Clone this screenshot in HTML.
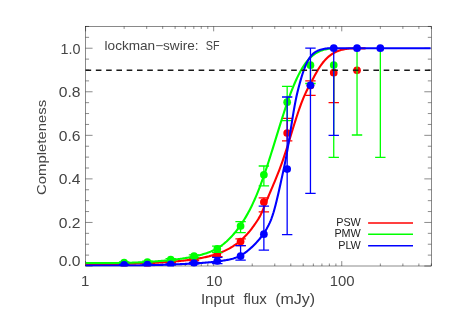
<!DOCTYPE html>
<html><head><meta charset="utf-8"><title>completeness</title>
<style>html,body{margin:0;padding:0;background:#fff;}svg{display:block;}text{font-family:"Liberation Sans",sans-serif;}</style></head>
<body>
<svg width="457" height="319" viewBox="0 0 457 319">
<rect width="457" height="319" fill="#fff"/>
<rect x="85.57" y="26.45" width="345.73" height="239.55" fill="none" stroke="#000" stroke-width="0.46"/>
<path d="M85.57,266.0 v-4.9 M85.57,26.45 v4.9 M124.13,266.0 v-2.5 M124.13,26.45 v2.5 M146.69,266.0 v-2.5 M146.69,26.45 v2.5 M162.69,266.0 v-2.5 M162.69,26.45 v2.5 M175.11,266.0 v-2.5 M175.11,26.45 v2.5 M185.25,266.0 v-2.5 M185.25,26.45 v2.5 M193.82,266.0 v-2.5 M193.82,26.45 v2.5 M201.25,266.0 v-2.5 M201.25,26.45 v2.5 M207.81,266.0 v-2.5 M207.81,26.45 v2.5 M213.67,266.0 v-4.9 M213.67,26.45 v4.9 M252.23,266.0 v-2.5 M252.23,26.45 v2.5 M274.78,266.0 v-2.5 M274.78,26.45 v2.5 M290.79,266.0 v-2.5 M290.79,26.45 v2.5 M303.20,266.0 v-2.5 M303.20,26.45 v2.5 M313.35,266.0 v-2.5 M313.35,26.45 v2.5 M321.92,266.0 v-2.5 M321.92,26.45 v2.5 M329.35,266.0 v-2.5 M329.35,26.45 v2.5 M335.90,266.0 v-2.5 M335.90,26.45 v2.5 M341.76,266.0 v-4.9 M341.76,26.45 v4.9 M380.33,266.0 v-2.5 M380.33,26.45 v2.5 M402.88,266.0 v-2.5 M402.88,26.45 v2.5 M418.89,266.0 v-2.5 M418.89,26.45 v2.5 M431.30,266.0 v-2.5 M431.30,26.45 v2.5 M85.57,266.00 h7.0 M431.3,266.00 h-7.0 M85.57,255.11 h3.5 M431.3,255.11 h-3.5 M85.57,244.22 h3.5 M431.3,244.22 h-3.5 M85.57,233.33 h3.5 M431.3,233.33 h-3.5 M85.57,222.45 h7.0 M431.3,222.45 h-7.0 M85.57,211.56 h3.5 M431.3,211.56 h-3.5 M85.57,200.67 h3.5 M431.3,200.67 h-3.5 M85.57,189.78 h3.5 M431.3,189.78 h-3.5 M85.57,178.89 h7.0 M431.3,178.89 h-7.0 M85.57,168.00 h3.5 M431.3,168.00 h-3.5 M85.57,157.11 h3.5 M431.3,157.11 h-3.5 M85.57,146.23 h3.5 M431.3,146.23 h-3.5 M85.57,135.34 h7.0 M431.3,135.34 h-7.0 M85.57,124.45 h3.5 M431.3,124.45 h-3.5 M85.57,113.56 h3.5 M431.3,113.56 h-3.5 M85.57,102.67 h3.5 M431.3,102.67 h-3.5 M85.57,91.78 h7.0 M431.3,91.78 h-7.0 M85.57,80.89 h3.5 M431.3,80.89 h-3.5 M85.57,70.00 h3.5 M431.3,70.00 h-3.5 M85.57,59.12 h3.5 M431.3,59.12 h-3.5 M85.57,48.23 h7.0 M431.3,48.23 h-7.0 M85.57,37.34 h3.5 M431.3,37.34 h-3.5 M85.57,26.45 h3.5 M431.3,26.45 h-3.5" stroke="#000" stroke-width="0.46" fill="none"/>
<clipPath id="pc"><rect x="85.57" y="26.45" width="345.73" height="240.15"/></clipPath>
<g clip-path="url(#pc)">
<path d="M124.13,263.00 V264.00 M118.93,263.00 H129.33 M118.93,264.00 H129.33" stroke="#ff0000" stroke-width="1.3" fill="none"/>
<circle cx="124.13" cy="263.50" r="3.85" fill="#ff0000"/>
<path d="M147.42,262.70 V263.70 M142.22,262.70 H152.62 M142.22,263.70 H152.62" stroke="#ff0000" stroke-width="1.3" fill="none"/>
<circle cx="147.42" cy="263.20" r="3.85" fill="#ff0000"/>
<path d="M170.71,261.30 V262.70 M165.51,261.30 H175.91 M165.51,262.70 H175.91" stroke="#ff0000" stroke-width="1.3" fill="none"/>
<circle cx="170.71" cy="262.00" r="3.85" fill="#ff0000"/>
<path d="M194.00,258.50 V260.50 M188.80,258.50 H199.20 M188.80,260.50 H199.20" stroke="#ff0000" stroke-width="1.3" fill="none"/>
<circle cx="194.00" cy="259.50" r="3.85" fill="#ff0000"/>
<path d="M217.29,252.70 V256.70 M212.09,252.70 H222.49 M212.09,256.70 H222.49" stroke="#ff0000" stroke-width="1.3" fill="none"/>
<circle cx="217.29" cy="254.70" r="3.85" fill="#ff0000"/>
<path d="M240.58,238.90 V245.60 M235.38,238.90 H245.78 M235.38,245.60 H245.78" stroke="#ff0000" stroke-width="1.3" fill="none"/>
<circle cx="240.58" cy="241.60" r="3.85" fill="#ff0000"/>
<path d="M263.87,197.80 V211.80 M258.67,197.80 H269.07 M258.67,211.80 H269.07" stroke="#ff0000" stroke-width="1.3" fill="none"/>
<circle cx="263.87" cy="202.10" r="3.85" fill="#ff0000"/>
<path d="M287.16,118.40 V140.80 M281.96,118.40 H292.36 M281.96,140.80 H292.36" stroke="#ff0000" stroke-width="1.3" fill="none"/>
<circle cx="287.16" cy="133.00" r="3.85" fill="#ff0000"/>
<path d="M310.45,80.80 V95.30 M305.25,80.80 H315.65 M305.25,95.30 H315.65" stroke="#ff0000" stroke-width="1.3" fill="none"/>
<circle cx="310.45" cy="85.60" r="3.85" fill="#ff0000"/>
<path d="M333.74,72.70 V102.70 M328.54,102.70 H338.94" stroke="#ff0000" stroke-width="1.3" fill="none"/>
<circle cx="333.74" cy="72.70" r="3.85" fill="#ff0000"/>
<circle cx="357.03" cy="70.30" r="3.85" fill="#ff0000"/>
<path d="M85.57,264.01 L86.57,264.01 L87.57,264.01 L88.57,264.01 L89.57,264.01 L90.57,264.01 L91.57,264.01 L92.57,264.01 L93.57,264.01 L94.57,264.01 L95.57,264.01 L96.57,264.01 L97.57,264.01 L98.57,264.01 L99.57,264.01 L100.57,264.01 L101.57,264.01 L102.57,264.01 L103.57,264.01 L104.57,264.01 L105.57,264.01 L106.57,264.01 L107.57,264.01 L108.57,264.01 L109.57,264.01 L110.57,264.01 L111.57,264.01 L112.57,264.01 L113.57,264.01 L114.57,264.01 L115.57,264.01 L116.57,264.01 L117.57,264.00 L118.57,263.99 L119.57,263.97 L120.57,263.95 L121.57,263.94 L122.57,263.92 L123.57,263.90 L124.57,263.88 L125.57,263.86 L126.57,263.84 L127.57,263.81 L128.57,263.79 L129.57,263.77 L130.57,263.74 L131.57,263.71 L132.57,263.69 L133.57,263.66 L134.57,263.63 L135.57,263.60 L136.57,263.57 L137.57,263.54 L138.57,263.50 L139.57,263.47 L140.57,263.43 L141.57,263.40 L142.57,263.36 L143.57,263.32 L144.57,263.28 L145.57,263.24 L146.57,263.20 L147.57,263.16 L148.57,263.12 L149.57,263.07 L150.57,263.03 L151.57,262.98 L152.57,262.93 L153.57,262.88 L154.57,262.83 L155.57,262.78 L156.57,262.73 L157.57,262.67 L158.57,262.62 L159.57,262.56 L160.57,262.50 L161.57,262.44 L162.57,262.38 L163.57,262.31 L164.57,262.25 L165.57,262.18 L166.57,262.11 L167.57,262.04 L168.57,261.97 L169.57,261.90 L170.57,261.82 L171.57,261.74 L172.57,261.66 L173.57,261.58 L174.57,261.49 L175.57,261.41 L176.57,261.32 L177.57,261.23 L178.57,261.13 L179.57,261.03 L180.57,260.93 L181.57,260.83 L182.57,260.73 L183.57,260.62 L184.57,260.50 L185.57,260.39 L186.57,260.27 L187.57,260.15 L188.57,260.02 L189.57,259.89 L190.57,259.76 L191.57,259.62 L192.57,259.47 L193.57,259.33 L194.57,259.17 L195.57,259.02 L196.57,258.85 L197.57,258.68 L198.57,258.51 L199.57,258.33 L200.57,258.14 L201.57,257.95 L202.57,257.75 L203.57,257.54 L204.57,257.33 L205.57,257.11 L206.57,256.88 L207.57,256.64 L208.57,256.40 L209.57,256.14 L210.57,255.87 L211.57,255.60 L212.57,255.31 L213.57,255.02 L214.57,254.71 L215.57,254.39 L216.57,254.06 L217.57,253.71 L218.57,253.36 L219.57,252.98 L220.57,252.60 L221.57,252.20 L222.57,251.78 L223.57,251.34 L224.57,250.89 L225.57,250.42 L226.57,249.93 L227.57,249.42 L228.57,248.90 L229.57,248.35 L230.57,247.77 L231.57,247.18 L232.57,246.56 L233.57,245.91 L234.57,245.24 L235.57,244.54 L236.57,243.81 L237.57,243.06 L238.57,242.27 L239.57,241.45 L240.57,240.60 L241.57,239.72 L242.57,238.80 L243.57,237.84 L244.57,236.85 L245.57,235.82 L246.57,234.75 L247.57,233.65 L248.57,232.50 L249.57,231.31 L250.57,230.08 L251.57,228.81 L252.57,227.49 L253.57,226.13 L254.57,224.72 L255.57,223.27 L256.57,221.76 L257.57,220.22 L258.57,218.61 L259.57,216.89 L260.57,215.01 L261.57,212.92 L262.57,210.65 L263.57,208.25 L264.57,205.77 L265.57,203.27 L266.57,200.79 L267.57,198.36 L268.57,195.97 L269.57,193.59 L270.57,191.24 L271.57,188.89 L272.57,186.54 L273.57,184.18 L274.57,181.80 L275.57,179.39 L276.57,176.94 L277.57,174.45 L278.57,171.91 L279.57,169.31 L280.57,166.64 L281.57,163.90 L282.57,161.08 L283.57,158.17 L284.57,155.19 L285.57,152.13 L286.57,149.01 L287.57,145.85 L288.57,142.64 L289.57,139.42 L290.57,136.17 L291.57,132.92 L292.57,129.68 L293.57,126.46 L294.57,123.26 L295.57,120.11 L296.57,117.01 L297.57,113.97 L298.57,111.00 L299.57,108.12 L300.57,105.34 L301.57,102.66 L302.57,100.10 L303.57,97.65 L304.57,95.33 L305.57,93.11 L306.57,90.98 L307.57,88.93 L308.57,86.95 L309.57,85.03 L310.57,83.15 L311.57,81.31 L312.57,79.49 L313.57,77.67 L314.57,75.85 L315.57,74.03 L316.57,72.23 L317.57,70.49 L318.57,68.82 L319.57,67.23 L320.57,65.74 L321.57,64.33 L322.57,63.01 L323.57,61.76 L324.57,60.59 L325.57,59.50 L326.57,58.48 L327.57,57.52 L328.57,56.64 L329.57,55.81 L330.57,55.05 L331.57,54.34 L332.57,53.69 L333.57,53.09 L334.57,52.54 L335.57,52.03 L336.57,51.57 L337.57,51.15 L338.57,50.77 L339.57,50.43 L340.57,50.12 L341.57,49.85 L342.57,49.60 L343.57,49.39 L344.57,49.20 L345.57,49.03 L346.57,48.89 L347.57,48.76 L348.57,48.66 L349.57,48.57 L350.57,48.50 L351.57,48.45 L352.57,48.41 L353.57,48.38 L354.57,48.36 L355.57,48.35 L356.57,48.35 L357.57,48.35 L358.57,48.35 L359.57,48.35 L360.57,48.35 L361.57,48.35 L362.57,48.35 L363.57,48.35 L364.57,48.35 L365.57,48.35" stroke="#ff0000" stroke-width="2.1" fill="none" stroke-linejoin="round"/>
<path d="M124.13,262.00 V263.20 M118.93,262.00 H129.33 M118.93,263.20 H129.33" stroke="#00ff00" stroke-width="1.3" fill="none"/>
<circle cx="124.13" cy="262.60" r="3.85" fill="#00ff00"/>
<path d="M147.42,261.20 V262.80 M142.22,261.20 H152.62 M142.22,262.80 H152.62" stroke="#00ff00" stroke-width="1.3" fill="none"/>
<circle cx="147.42" cy="262.00" r="3.85" fill="#00ff00"/>
<path d="M170.71,258.70 V260.70 M165.51,258.70 H175.91 M165.51,260.70 H175.91" stroke="#00ff00" stroke-width="1.3" fill="none"/>
<circle cx="170.71" cy="259.70" r="3.85" fill="#00ff00"/>
<path d="M194.00,254.80 V257.60 M188.80,254.80 H199.20 M188.80,257.60 H199.20" stroke="#00ff00" stroke-width="1.3" fill="none"/>
<circle cx="194.00" cy="256.20" r="3.85" fill="#00ff00"/>
<path d="M217.29,246.20 V252.40 M212.09,246.20 H222.49 M212.09,252.40 H222.49" stroke="#00ff00" stroke-width="1.3" fill="none"/>
<circle cx="217.29" cy="248.90" r="3.85" fill="#00ff00"/>
<path d="M240.58,221.60 V232.60 M235.38,221.60 H245.78 M235.38,232.60 H245.78" stroke="#00ff00" stroke-width="1.3" fill="none"/>
<circle cx="240.58" cy="226.10" r="3.85" fill="#00ff00"/>
<path d="M263.87,166.00 V185.90 M258.67,166.00 H269.07 M258.67,185.90 H269.07" stroke="#00ff00" stroke-width="1.3" fill="none"/>
<circle cx="263.87" cy="174.80" r="3.85" fill="#00ff00"/>
<path d="M287.16,86.30 V120.70 M281.96,86.30 H292.36 M281.96,120.70 H292.36" stroke="#00ff00" stroke-width="1.3" fill="none"/>
<circle cx="287.16" cy="102.20" r="3.85" fill="#00ff00"/>
<path d="M310.45,65.20 V83.50 M305.25,83.50 H315.65" stroke="#00ff00" stroke-width="1.3" fill="none"/>
<circle cx="310.45" cy="65.20" r="3.85" fill="#00ff00"/>
<path d="M333.74,65.10 V157.30 M328.54,157.30 H338.94" stroke="#00ff00" stroke-width="1.3" fill="none"/>
<circle cx="333.74" cy="65.10" r="3.85" fill="#00ff00"/>
<path d="M357.03,49.00 V135.00 M351.83,135.00 H362.23" stroke="#00ff00" stroke-width="1.3" fill="none"/>
<path d="M380.33,49.00 V157.30 M375.13,157.30 H385.53" stroke="#00ff00" stroke-width="1.3" fill="none"/>
<path d="M85.57,262.97 L86.57,262.97 L87.57,262.97 L88.57,262.97 L89.57,262.97 L90.57,262.97 L91.57,262.97 L92.57,262.97 L93.57,262.97 L94.57,262.97 L95.57,262.97 L96.57,262.97 L97.57,262.97 L98.57,262.97 L99.57,262.97 L100.57,262.97 L101.57,262.97 L102.57,262.97 L103.57,262.97 L104.57,262.97 L105.57,262.97 L106.57,262.97 L107.57,262.97 L108.57,262.97 L109.57,262.97 L110.57,262.97 L111.57,262.97 L112.57,262.97 L113.57,262.97 L114.57,262.97 L115.57,262.97 L116.57,262.97 L117.57,262.97 L118.57,262.97 L119.57,262.97 L120.57,262.97 L121.57,262.97 L122.57,262.97 L123.57,262.95 L124.57,262.93 L125.57,262.89 L126.57,262.86 L127.57,262.83 L128.57,262.80 L129.57,262.76 L130.57,262.72 L131.57,262.68 L132.57,262.65 L133.57,262.60 L134.57,262.56 L135.57,262.52 L136.57,262.47 L137.57,262.43 L138.57,262.38 L139.57,262.33 L140.57,262.28 L141.57,262.23 L142.57,262.18 L143.57,262.12 L144.57,262.07 L145.57,262.01 L146.57,261.95 L147.57,261.89 L148.57,261.83 L149.57,261.76 L150.57,261.70 L151.57,261.63 L152.57,261.57 L153.57,261.50 L154.57,261.43 L155.57,261.35 L156.57,261.28 L157.57,261.20 L158.57,261.12 L159.57,261.04 L160.57,260.96 L161.57,260.88 L162.57,260.79 L163.57,260.70 L164.57,260.61 L165.57,260.52 L166.57,260.43 L167.57,260.33 L168.57,260.23 L169.57,260.13 L170.57,260.03 L171.57,259.92 L172.57,259.81 L173.57,259.70 L174.57,259.58 L175.57,259.46 L176.57,259.34 L177.57,259.21 L178.57,259.08 L179.57,258.95 L180.57,258.81 L181.57,258.67 L182.57,258.53 L183.57,258.38 L184.57,258.23 L185.57,258.07 L186.57,257.90 L187.57,257.73 L188.57,257.56 L189.57,257.38 L190.57,257.19 L191.57,257.00 L192.57,256.80 L193.57,256.60 L194.57,256.38 L195.57,256.16 L196.57,255.93 L197.57,255.70 L198.57,255.45 L199.57,255.20 L200.57,254.94 L201.57,254.66 L202.57,254.38 L203.57,254.08 L204.57,253.78 L205.57,253.46 L206.57,253.13 L207.57,252.78 L208.57,252.42 L209.57,252.04 L210.57,251.65 L211.57,251.23 L212.57,250.79 L213.57,250.32 L214.57,249.83 L215.57,249.31 L216.57,248.76 L217.57,248.18 L218.57,247.56 L219.57,246.91 L220.57,246.23 L221.57,245.51 L222.57,244.76 L223.57,243.98 L224.57,243.16 L225.57,242.30 L226.57,241.42 L227.57,240.49 L228.57,239.53 L229.57,238.54 L230.57,237.51 L231.57,236.44 L232.57,235.34 L233.57,234.20 L234.57,233.02 L235.57,231.81 L236.57,230.55 L237.57,229.26 L238.57,227.92 L239.57,226.55 L240.57,225.13 L241.57,223.67 L242.57,222.16 L243.57,220.61 L244.57,219.00 L245.57,217.34 L246.57,215.63 L247.57,213.86 L248.57,212.03 L249.57,210.14 L250.57,208.18 L251.57,206.16 L252.57,204.08 L253.57,201.92 L254.57,199.70 L255.57,197.41 L256.57,195.06 L257.57,192.63 L258.57,190.13 L259.57,187.56 L260.57,184.93 L261.57,182.23 L262.57,179.47 L263.57,176.65 L264.57,173.77 L265.57,170.83 L266.57,167.85 L267.57,164.81 L268.57,161.73 L269.57,158.62 L270.57,155.46 L271.57,152.28 L272.57,149.07 L273.57,145.84 L274.57,142.60 L275.57,139.35 L276.57,136.09 L277.57,132.84 L278.57,129.60 L279.57,126.37 L280.57,123.16 L281.57,119.98 L282.57,116.83 L283.57,113.73 L284.57,110.66 L285.57,107.65 L286.57,104.69 L287.57,101.79 L288.57,98.95 L289.57,96.18 L290.57,93.49 L291.57,90.87 L292.57,88.33 L293.57,85.87 L294.57,83.50 L295.57,81.21 L296.57,79.00 L297.57,76.89 L298.57,74.86 L299.57,72.92 L300.57,71.08 L301.57,69.32 L302.57,67.65 L303.57,66.07 L304.57,64.58 L305.57,63.17 L306.57,61.85 L307.57,60.61 L308.57,59.46 L309.57,58.38 L310.57,57.37 L311.57,56.44 L312.57,55.58 L313.57,54.79 L314.57,54.06 L315.57,53.39 L316.57,52.78 L317.57,52.22 L318.57,51.72 L319.57,51.26 L320.57,50.84 L321.57,50.47 L322.57,50.14 L323.57,49.84 L324.57,49.58 L325.57,49.35 L326.57,49.15 L327.57,48.97 L328.57,48.82 L329.57,48.70 L330.57,48.59 L331.57,48.50 L332.57,48.43 L333.57,48.37 L334.57,48.33 L335.57,48.30 L336.57,48.29 L337.57,48.28" stroke="#00ff00" stroke-width="2.1" fill="none" stroke-linejoin="round"/>
<path d="M124.13,264.30 V264.90 M118.93,264.30 H129.33 M118.93,264.90 H129.33" stroke="#0000ff" stroke-width="1.3" fill="none"/>
<circle cx="124.13" cy="264.90" r="3.85" fill="#0000ff"/>
<path d="M147.42,264.20 V264.80 M142.22,264.20 H152.62 M142.22,264.80 H152.62" stroke="#0000ff" stroke-width="1.3" fill="none"/>
<circle cx="147.42" cy="264.70" r="3.85" fill="#0000ff"/>
<path d="M170.71,263.80 V264.60 M165.51,263.80 H175.91 M165.51,264.60 H175.91" stroke="#0000ff" stroke-width="1.3" fill="none"/>
<circle cx="170.71" cy="264.30" r="3.85" fill="#0000ff"/>
<path d="M194.00,262.30 V263.90 M188.80,262.30 H199.20 M188.80,263.90 H199.20" stroke="#0000ff" stroke-width="1.3" fill="none"/>
<circle cx="194.00" cy="263.10" r="3.85" fill="#0000ff"/>
<path d="M217.29,257.40 V263.60 M212.09,257.40 H222.49 M212.09,263.60 H222.49" stroke="#0000ff" stroke-width="1.3" fill="none"/>
<circle cx="217.29" cy="261.00" r="3.85" fill="#0000ff"/>
<path d="M240.58,245.60 V260.20 M235.38,245.60 H245.78 M235.38,260.20 H245.78" stroke="#0000ff" stroke-width="1.3" fill="none"/>
<circle cx="240.58" cy="256.10" r="3.85" fill="#0000ff"/>
<path d="M263.87,206.20 V250.20 M258.67,206.20 H269.07 M258.67,250.20 H269.07" stroke="#0000ff" stroke-width="1.3" fill="none"/>
<circle cx="263.87" cy="234.20" r="3.85" fill="#0000ff"/>
<path d="M287.16,97.00 V234.60 M281.96,97.00 H292.36 M281.96,234.60 H292.36" stroke="#0000ff" stroke-width="1.3" fill="none"/>
<circle cx="287.16" cy="169.10" r="3.85" fill="#0000ff"/>
<path d="M310.45,48.20 V193.30 M305.25,48.20 H315.65 M305.25,193.30 H315.65" stroke="#0000ff" stroke-width="1.3" fill="none"/>
<circle cx="310.45" cy="85.30" r="3.85" fill="#0000ff"/>
<path d="M333.74,48.20 V135.30 M328.54,135.30 H338.94" stroke="#0000ff" stroke-width="1.3" fill="none"/>
<circle cx="333.74" cy="48.20" r="3.85" fill="#0000ff"/>
<circle cx="357.03" cy="48.20" r="3.85" fill="#0000ff"/>
<circle cx="380.33" cy="48.20" r="3.85" fill="#0000ff"/>
<path d="M85.57,265.43 L86.57,265.43 L87.57,265.43 L88.57,265.43 L89.57,265.43 L90.57,265.43 L91.57,265.43 L92.57,265.43 L93.57,265.43 L94.57,265.43 L95.57,265.43 L96.57,265.43 L97.57,265.43 L98.57,265.43 L99.57,265.43 L100.57,265.43 L101.57,265.43 L102.57,265.43 L103.57,265.43 L104.57,265.43 L105.57,265.43 L106.57,265.43 L107.57,265.43 L108.57,265.43 L109.57,265.43 L110.57,265.43 L111.57,265.43 L112.57,265.43 L113.57,265.43 L114.57,265.43 L115.57,265.43 L116.57,265.43 L117.57,265.43 L118.57,265.43 L119.57,265.43 L120.57,265.43 L121.57,265.43 L122.57,265.43 L123.57,265.43 L124.57,265.43 L125.57,265.43 L126.57,265.43 L127.57,265.43 L128.57,265.43 L129.57,265.43 L130.57,265.43 L131.57,265.43 L132.57,265.43 L133.57,265.43 L134.57,265.43 L135.57,265.43 L136.57,265.43 L137.57,265.43 L138.57,265.43 L139.57,265.43 L140.57,265.42 L141.57,265.40 L142.57,265.38 L143.57,265.36 L144.57,265.33 L145.57,265.31 L146.57,265.29 L147.57,265.26 L148.57,265.24 L149.57,265.21 L150.57,265.19 L151.57,265.16 L152.57,265.13 L153.57,265.11 L154.57,265.08 L155.57,265.05 L156.57,265.02 L157.57,264.99 L158.57,264.96 L159.57,264.93 L160.57,264.90 L161.57,264.87 L162.57,264.84 L163.57,264.80 L164.57,264.77 L165.57,264.74 L166.57,264.70 L167.57,264.67 L168.57,264.63 L169.57,264.59 L170.57,264.56 L171.57,264.52 L172.57,264.48 L173.57,264.44 L174.57,264.40 L175.57,264.36 L176.57,264.32 L177.57,264.28 L178.57,264.24 L179.57,264.19 L180.57,264.15 L181.57,264.10 L182.57,264.06 L183.57,264.01 L184.57,263.96 L185.57,263.91 L186.57,263.86 L187.57,263.81 L188.57,263.76 L189.57,263.71 L190.57,263.65 L191.57,263.60 L192.57,263.54 L193.57,263.48 L194.57,263.42 L195.57,263.36 L196.57,263.30 L197.57,263.24 L198.57,263.17 L199.57,263.10 L200.57,263.03 L201.57,262.96 L202.57,262.89 L203.57,262.81 L204.57,262.73 L205.57,262.65 L206.57,262.57 L207.57,262.48 L208.57,262.39 L209.57,262.30 L210.57,262.21 L211.57,262.11 L212.57,262.01 L213.57,261.90 L214.57,261.79 L215.57,261.67 L216.57,261.56 L217.57,261.43 L218.57,261.30 L219.57,261.17 L220.57,261.03 L221.57,260.88 L222.57,260.73 L223.57,260.57 L224.57,260.41 L225.57,260.23 L226.57,260.05 L227.57,259.86 L228.57,259.66 L229.57,259.44 L230.57,259.21 L231.57,258.96 L232.57,258.70 L233.57,258.41 L234.57,258.09 L235.57,257.75 L236.57,257.37 L237.57,256.97 L238.57,256.53 L239.57,256.05 L240.57,255.53 L241.57,254.96 L242.57,254.36 L243.57,253.72 L244.57,253.04 L245.57,252.32 L246.57,251.58 L247.57,250.80 L248.57,249.98 L249.57,249.14 L250.57,248.26 L251.57,247.36 L252.57,246.42 L253.57,245.46 L254.57,244.46 L255.57,243.43 L256.57,242.37 L257.57,241.28 L258.57,240.15 L259.57,238.98 L260.57,237.75 L261.57,236.47 L262.57,235.13 L263.57,233.71 L264.57,232.20 L265.57,230.61 L266.57,228.91 L267.57,227.10 L268.57,225.17 L269.57,223.08 L270.57,220.80 L271.57,218.26 L272.57,215.42 L273.57,212.24 L274.57,208.75 L275.57,204.98 L276.57,200.98 L277.57,196.77 L278.57,192.42 L279.57,187.95 L280.57,183.43 L281.57,178.89 L282.57,174.37 L283.57,169.82 L284.57,165.11 L285.57,160.15 L286.57,154.82 L287.57,149.10 L288.57,143.07 L289.57,136.83 L290.57,130.48 L291.57,124.14 L292.57,117.89 L293.57,111.86 L294.57,106.15 L295.57,100.85 L296.57,96.04 L297.57,91.68 L298.57,87.67 L299.57,83.95 L300.57,80.41 L301.57,77.01 L302.57,73.79 L303.57,70.77 L304.57,68.01 L305.57,65.51 L306.57,63.27 L307.57,61.27 L308.57,59.50 L309.57,57.93 L310.57,56.56 L311.57,55.35 L312.57,54.30 L313.57,53.39 L314.57,52.60 L315.57,51.92 L316.57,51.34 L317.57,50.83 L318.57,50.40 L319.57,50.03 L320.57,49.71 L321.57,49.43 L322.57,49.19 L323.57,48.99 L324.57,48.81 L325.57,48.65 L326.57,48.51 L327.57,48.38 L328.57,48.27 L329.57,48.23 L330.57,48.23 L331.57,48.23 L332.57,48.23 L333.57,48.23 L334.57,48.23 L335.57,48.23 L336.57,48.23 L337.57,48.23 L338.57,48.23 L339.57,48.23 L340.57,48.23 L341.57,48.23 L342.57,48.23 L343.57,48.23 L344.57,48.23 L345.57,48.23 L346.57,48.23 L347.57,48.23 L348.57,48.23 L349.57,48.23 L350.57,48.23 L351.57,48.23 L352.57,48.23 L353.57,48.23 L354.57,48.23 L355.57,48.23 L356.57,48.23 L357.57,48.23 L358.57,48.23 L359.57,48.23 L360.57,48.23 L361.57,48.23 L362.57,48.23 L363.57,48.23 L364.57,48.23 L365.57,48.23 L366.57,48.23 L367.57,48.23 L368.57,48.23 L369.57,48.23 L370.57,48.23 L371.57,48.23 L372.57,48.23 L373.57,48.23 L374.57,48.23 L375.57,48.23 L376.57,48.23 L377.57,48.23 L378.57,48.23 L379.57,48.23 L380.57,48.23 L381.57,48.23 L382.57,48.23 L383.57,48.23 L384.57,48.23 L385.57,48.23 L386.57,48.23 L387.57,48.23 L388.57,48.23 L389.57,48.23 L390.57,48.23 L391.57,48.23 L392.57,48.23 L393.57,48.23 L394.57,48.23 L395.57,48.23 L396.57,48.23 L397.57,48.23 L398.57,48.23 L399.57,48.23 L400.57,48.23 L401.57,48.23 L402.57,48.23 L403.57,48.23 L404.57,48.23 L405.57,48.23 L406.57,48.23 L407.57,48.23 L408.57,48.23 L409.57,48.23 L410.57,48.23 L411.57,48.23 L412.57,48.23 L413.57,48.23 L414.57,48.23 L415.57,48.23 L416.57,48.23 L417.57,48.23 L418.57,48.23 L419.57,48.23 L420.57,48.23 L421.57,48.23 L422.57,48.23 L423.57,48.23 L424.57,48.23 L425.57,48.23 L426.57,48.23 L427.57,48.23 L428.57,48.23 L429.57,48.23 L430.57,48.23" stroke="#0000ff" stroke-width="2.1" fill="none" stroke-linejoin="round"/>
</g>
<path d="M85.57,70.2 H431.3" stroke="#1a1a1a" stroke-width="1.45" stroke-dasharray="5.6 4.68" fill="none"/>
<g font-family="Liberation Sans, sans-serif" style="mix-blend-mode:multiply">
<text x="80.5" y="53.73" font-size="15.0" text-anchor="end" fill="#444444" textLength="20.0" lengthAdjust="spacingAndGlyphs">1.0</text>
<text x="80.5" y="97.28" font-size="15.0" text-anchor="end" fill="#444444" textLength="21.8" lengthAdjust="spacingAndGlyphs">0.8</text>
<text x="80.5" y="140.84" font-size="15.0" text-anchor="end" fill="#444444" textLength="21.8" lengthAdjust="spacingAndGlyphs">0.6</text>
<text x="80.5" y="184.39" font-size="15.0" text-anchor="end" fill="#444444" textLength="21.8" lengthAdjust="spacingAndGlyphs">0.4</text>
<text x="80.5" y="227.95" font-size="15.0" text-anchor="end" fill="#444444" textLength="21.8" lengthAdjust="spacingAndGlyphs">0.2</text>
<text x="80.5" y="266.3" font-size="15.0" text-anchor="end" fill="#444444" textLength="21.8" lengthAdjust="spacingAndGlyphs">0.0</text>
<text x="85.2" y="286.0" font-size="15.0" text-anchor="middle" fill="#444444">1</text>
<text x="214.2" y="286.0" font-size="15.0" text-anchor="middle" fill="#444444" textLength="16.4" lengthAdjust="spacingAndGlyphs">10</text>
<text x="342.2" y="286.0" font-size="15.0" text-anchor="middle" fill="#444444" textLength="24.9" lengthAdjust="spacingAndGlyphs">100</text>
<text y="303.7" font-size="14.3" fill="#444444"><tspan x="200.9" textLength="33.6" lengthAdjust="spacingAndGlyphs">Input</tspan> <tspan x="243.4" textLength="23.4" lengthAdjust="spacingAndGlyphs">flux</tspan> <tspan x="275.2" textLength="40.0" lengthAdjust="spacingAndGlyphs">(mJy)</tspan></text>
<text transform="translate(46.3,147.4) rotate(-90)" font-size="13.6" text-anchor="middle" fill="#444444" textLength="95" lengthAdjust="spacingAndGlyphs">Completeness</text>
<text y="50.0" font-size="12.4" fill="#444444"><tspan x="104.6" textLength="93.9" lengthAdjust="spacingAndGlyphs">lockman−swire:</tspan> <tspan x="205.8" textLength="13.8" lengthAdjust="spacingAndGlyphs">SF</tspan></text>
<text x="360.8" y="225.60" font-size="10.8" text-anchor="end" fill="#222">PSW</text>
<path d="M368.1,222.9 H413" stroke="#ff0000" stroke-width="1.5"/>
<text x="360.8" y="237.20" font-size="10.8" text-anchor="end" fill="#222">PMW</text>
<path d="M368.1,234.25 H413" stroke="#00ff00" stroke-width="1.35"/>
<text x="360.8" y="248.80" font-size="10.8" text-anchor="end" fill="#222">PLW</text>
<path d="M368.1,245.8 H413" stroke="#0000ff" stroke-width="1.5"/>
</g>
</svg>
</body></html>
